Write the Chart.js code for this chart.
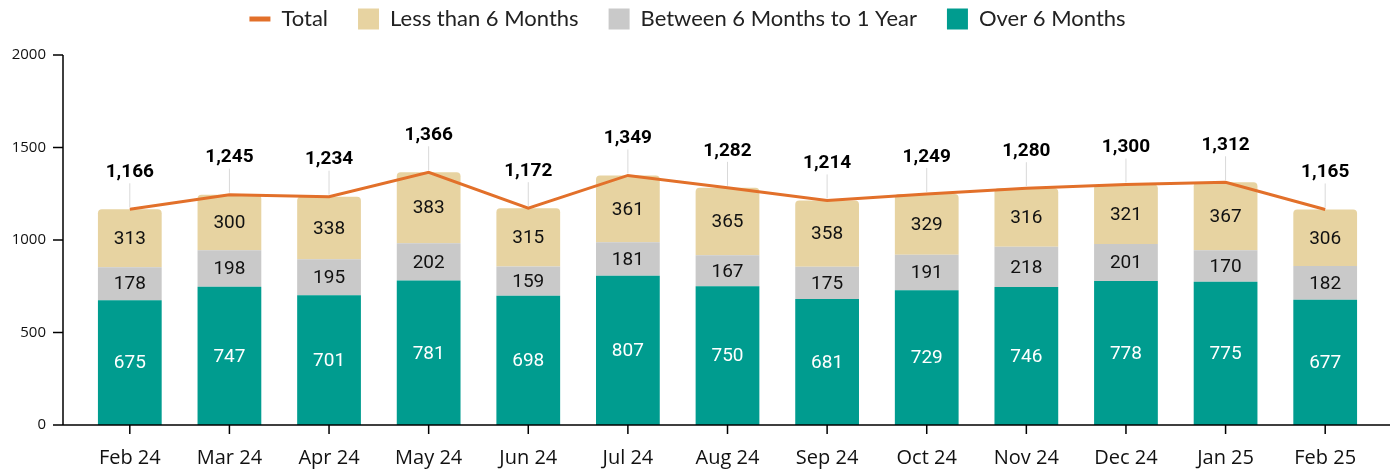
<!DOCTYPE html>
<html>
<head>
<meta charset="utf-8">
<script src="https://cdn.jsdelivr.net/npm/chart.js@4/dist/chart.umd.min.js"></script>
<style>
  html, body { margin: 0; padding: 0; background: #fff; }
  canvas { display: block; }
</style>
</head>
<body>
<canvas id="agingChart" width="1397" height="474"></canvas>
<script>
const months = ['Feb 24', 'Mar 24', 'Apr 24', 'May 24', 'Jun 24', 'Jul 24', 'Aug 24',
    'Sep 24', 'Oct 24', 'Nov 24', 'Dec 24', 'Jan 25', 'Feb 25'];
const overSix = [675, 747, 701, 781, 698, 807, 750, 681, 729, 746, 778, 775, 677];
const sixToYear = [178, 198, 195, 202, 159, 181, 167, 175, 191, 218, 201, 170, 182];
const lessSix = [313, 300, 338, 383, 315, 361, 365, 358, 329, 316, 321, 367, 306];
const totals = [1166, 1245, 1234, 1366, 1172, 1349, 1282, 1214, 1249, 1280, 1300, 1312, 1165];
const yTicks = [0, 500, 1000, 1500, 2000];

const legendOrder = ['Total', 'Less than 6 Months', 'Between 6 Months to 1 Year', 'Over 6 Months'];

// pull the legend row up towards the top edge
const legendShift = {
    id: 'legendShift',
    afterLayout(chart) {
        chart.legend.top -= 22;
        chart.legend.bottom -= 22;
    }
};

// axis lines + tick marks, drawn a bit wider than the plot area
const axisPlugin = {
    id: 'axisLines',
    afterDraw(chart) {
        const { ctx, chartArea, scales } = chart;
        const x0 = chartArea.left - 17;
        const x1 = chartArea.right + 15;
        const yBase = scales.y.getPixelForValue(0);
        ctx.save();
        ctx.strokeStyle = '#000';
        ctx.lineWidth = 1.5;
        ctx.beginPath();
        ctx.moveTo(x0, scales.y.getPixelForValue(2000));
        ctx.lineTo(x0, yBase);
        ctx.lineTo(x1, yBase);
        yTicks.forEach(v => {
            const y = scales.y.getPixelForValue(v);
            ctx.moveTo(x0 - 10, y);
            ctx.lineTo(x0, y);
        });
        months.forEach((m, i) => {
            const x = scales.x.getPixelForValue(i);
            ctx.moveTo(x, yBase);
            ctx.lineTo(x, yBase + 9);
        });
        ctx.stroke();
        ctx.restore();
    }
};

const labelPlugin = {
    id: 'valueLabels',
    afterDatasetsDraw(chart) {
        const { ctx } = chart;
        ctx.save();
        ctx.textAlign = 'center';
        ctx.textBaseline = 'middle';
        chart.data.datasets.forEach((ds, di) => {
            if (ds.type === 'line') return;
            const meta = chart.getDatasetMeta(di);
            meta.data.forEach((bar, i) => {
                ctx.fillStyle = ds.labelColor;
                ctx.font = '19px Roboto';
                ctx.fillText(ds.data[i], bar.x, (bar.y + bar.base) / 2 + 1);
            });
        });
        // totals with leader lines
        const lineMeta = chart.getDatasetMeta(0);
        lineMeta.data.forEach((pt, i) => {
            ctx.strokeStyle = '#d9d9d9';
            ctx.lineWidth = 1;
            ctx.beginPath();
            ctx.moveTo(pt.x, pt.y - 2);
            ctx.lineTo(pt.x, pt.y - 26);
            ctx.stroke();
            ctx.fillStyle = '#000';
            ctx.font = 'bold 19px Roboto';
            ctx.fillText(totals[i].toLocaleString('en-US'), pt.x, pt.y - 37);
        });
        ctx.restore();
    }
};

const ctx = document.getElementById('agingChart').getContext('2d');
new Chart(ctx, {
    data: {
        labels: months,
        datasets: [
            {
                type: 'line',
                label: 'Total',
                data: totals,
                stack: 'line',
                borderColor: '#E2702A',
                backgroundColor: '#E2702A',
                borderWidth: 3,
                pointRadius: 0,
                tension: 0,
                order: 0
            },
            {
                type: 'bar',
                label: 'Over 6 Months',
                data: overSix,
                stack: 'bars',
                backgroundColor: '#009C8F',
                labelColor: '#fff',
                order: 1
            },
            {
                type: 'bar',
                label: 'Between 6 Months to 1 Year',
                data: sixToYear,
                stack: 'bars',
                backgroundColor: '#C9C9C9',
                labelColor: '#111',
                order: 1
            },
            {
                type: 'bar',
                label: 'Less than 6 Months',
                data: lessSix,
                stack: 'bars',
                backgroundColor: '#E7D3A1',
                labelColor: '#111',
                borderRadius: { topLeft: 4, topRight: 4, bottomLeft: 0, bottomRight: 0 },
                borderSkipped: false,
                order: 1
            }
        ]
    },
    options: {
        responsive: false,
        animation: false,
        datasets: {
            bar: { barPercentage: 0.64, categoryPercentage: 1 }
        },
        layout: {
            padding: { top: 0, right: 22, bottom: 3, left: 0 }
        },
        scales: {
            x: {
                stacked: true,
                afterFit(scale) { scale.height = 46; },
                grid: { display: false, drawTicks: false },
                border: { display: false },
                ticks: {
                    color: '#111',
                    font: { family: 'Open Sans', size: 20 },
                    padding: 21,
                    maxRotation: 0
                }
            },
            y: {
                stacked: true,
                min: 0,
                max: 2000,
                afterFit(scale) { scale.width = 80; },
                afterBuildTicks(scale) { scale.ticks = yTicks.map(v => ({ value: v })); },
                grid: { display: false, drawTicks: false },
                border: { display: false },
                ticks: {
                    color: '#111',
                    font: { family: 'Open Sans', size: 15 },
                    padding: 34,
                    callback: v => String(v)
                }
            }
        },
        plugins: {
            legend: {
                position: 'top',
                maxHeight: 55,
                labels: {
                    usePointStyle: true,
                    pointStyleWidth: 21,
                    boxHeight: 21,
                    padding: 30,
                    color: '#222',
                    font: { family: 'Lato', size: 22 },
                    sort: (a, b) => legendOrder.indexOf(a.text) - legendOrder.indexOf(b.text),
                    generateLabels(chart) {
                        const items = Chart.defaults.plugins.legend.labels.generateLabels(chart);
                        return items.map(it => {
                            if (it.text === 'Total') {
                                it.pointStyle = 'line';
                                it.lineWidth = 5;
                                it.strokeStyle = '#E2702A';
                            } else {
                                it.pointStyle = 'rect';
                                it.lineWidth = 0;
                                it.borderRadius = 0;
                            }
                            return it;
                        });
                    }
                }
            },
            tooltip: { enabled: false }
        }
    },
    plugins: [legendShift, axisPlugin, labelPlugin]
});
</script>
</body>
</html>
